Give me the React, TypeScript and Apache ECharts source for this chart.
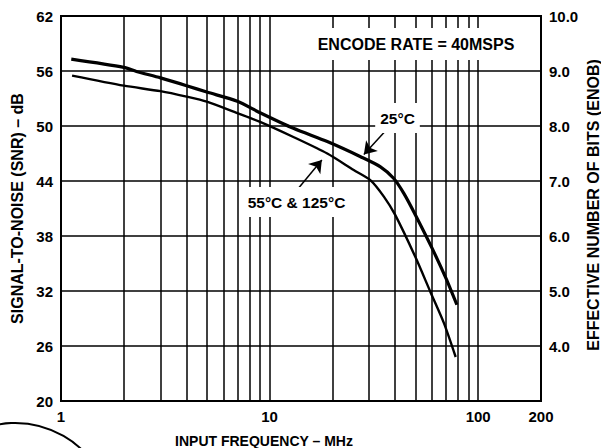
import React, { useEffect, useRef } from 'react';
import * as echarts from 'echarts';

// 25°C curve
const FREQ_25 = [1.12, 2, 2.3, 3, 4, 5, 7, 9, 13, 18.9, 27.3, 34, 39.3, 44, 50, 60, 70, 79];
const SNR_25 = [57.3, 56.4, 55.95, 55.25, 54.4, 53.7, 52.7, 51.45, 49.75, 48.3, 46.65, 45.55, 44.3, 42.65, 40.3, 36.7, 33.4, 30.5];

// 55°C & 125°C curve
const FREQ_HOT = [1.13, 2, 3, 4, 5, 7, 9, 13, 18.9, 25.3, 30.4, 35.3, 40, 50, 59, 68.5, 78];
const SNR_HOT = [55.5, 54.4, 53.8, 53.2, 52.65, 51.4, 50.45, 48.8, 47.0, 45.2, 44.1, 42.3, 40.3, 35.7, 31.9, 28.5, 24.8];

const SNR_TICKS = [20, 26, 32, 38, 44, 50, 56, 62];
const ENOB_MIN = 3;
const ENOB_MAX = 10;
const MINOR_FREQ = [2, 3, 4, 5, 6, 7, 8, 9, 20, 30, 40, 50, 60, 70, 80, 90];

// annotation arrows: [from, to] in (MHz, dB)
const ARROW_25 = [[37.1, 49.8], [28.3, 46.9]];
const ARROW_HOT = [[13.5, 43.0], [17.8, 46.3]];

const FONT = '"Liberation Sans", Arial, Helvetica, sans-serif';

export default function App() {
  const ref = useRef<HTMLDivElement>(null);

  useEffect(() => {
    const chart = echarts.init(ref.current!, null, { renderer: 'svg' });
    const lbl = { color: '#000', fontWeight: 'bold', fontSize: 15, fontFamily: FONT };
    const gridLine = { color: '#000', width: 1.5 };

    chart.setOption({
      animation: false,
      backgroundColor: '#fff',
      grid: {
        left: 61, right: 60, top: 16, bottom: 47,
        outerBoundsMode: 'none', containLabel: false,
        show: true, borderColor: '#000', borderWidth: 2, backgroundColor: 'transparent',
      },
      xAxis: {
        type: 'log', logBase: 10, min: 1, max: 200,
        axisLine: { show: false }, axisTick: { show: false },
        splitLine: { show: true, lineStyle: gridLine },
        axisLabel: { ...lbl, margin: 8, formatter: (v: number) => String(v) },
        name: 'INPUT FREQUENCY – MHz', nameLocation: 'middle', nameGap: 33, nameMoveOverlap: false,
        nameTextStyle: { ...lbl, fontSize: 14, lineHeight: 14, padding: [0, 74, 0, 0] },
      },
      yAxis: [
        {
          type: 'value', min: 20, max: 62, position: 'left',
          axisLine: { show: false }, axisTick: { show: false, customValues: SNR_TICKS },
          splitLine: { show: false },
          axisLabel: { ...lbl, margin: 8, customValues: SNR_TICKS },
          name: 'SIGNAL-TO-NOISE (SNR) – dB', nameLocation: 'middle', nameGap: 36, nameRotate: 90,
          nameMoveOverlap: false,
          nameTextStyle: { ...lbl, fontSize: 16, lineHeight: 16 },
        },
        {
          type: 'value', min: ENOB_MIN, max: ENOB_MAX, interval: 1, position: 'right',
          axisLine: { show: false }, axisTick: { show: false },
          splitLine: { show: true, lineStyle: gridLine },
          axisLabel: { ...lbl, margin: 8, formatter: (v: number) => (v === ENOB_MIN ? '' : v.toFixed(1)) },
        },
      ],
      series: [
        {
          type: 'line', data: [], yAxisIndex: 0, z: 1, silent: true,
          markLine: {
            silent: true, symbol: 'none', label: { show: false },
            lineStyle: { ...gridLine, type: 'solid' },
            emphasis: { disabled: true },
            data: MINOR_FREQ.map((f) => ({ xAxis: f })),
          },
        },
        {
          name: '25°C', type: 'line', yAxisIndex: 0, z: 3, showSymbol: false, smooth: 0.25,
          lineStyle: { color: '#000', width: 3.2 },
          data: FREQ_25.map((f, i) => [f, SNR_25[i]]),
        },
        {
          name: '55°C & 125°C', type: 'line', yAxisIndex: 0, z: 3, showSymbol: false, smooth: 0.25,
          lineStyle: { color: '#000', width: 2.4 },
          data: FREQ_HOT.map((f, i) => [f, SNR_HOT[i]]),
        },
        {
          type: 'line', data: [], yAxisIndex: 0, z: 4, silent: true,
          markLine: {
            silent: true, symbol: ['none', 'arrow'], symbolSize: 12, label: { show: false },
            lineStyle: { color: '#000', width: 1.5, type: 'solid' },
            itemStyle: { color: '#000' },
            emphasis: { disabled: true },
            data: [
              [{ coord: ARROW_25[0] }, { coord: ARROW_25[1] }],
              [{ coord: ARROW_HOT[0] }, { coord: ARROW_HOT[1] }],
            ],
          },
        },
      ],
      graphic: [
        {
          type: 'text', x: 416, y: 44, z: 100,
          style: {
            text: 'ENCODE RATE = 40MSPS', fill: '#000', font: `bold 16px ${FONT}`,
            align: 'center', verticalAlign: 'middle', backgroundColor: '#fff', padding: [8, 6],
          },
        },
        {
          type: 'text', x: 397.5, y: 118, z: 100,
          style: {
            text: '25°C', fill: '#000', font: `bold 15.5px ${FONT}`,
            align: 'center', verticalAlign: 'middle', backgroundColor: '#fff', padding: [7, 5],
          },
        },
        {
          type: 'text', x: 296.5, y: 202, z: 100,
          style: {
            text: '55°C & 125°C', fill: '#000', font: `bold 15.5px ${FONT}`,
            align: 'center', verticalAlign: 'middle', backgroundColor: '#fff', padding: [7, 3],
          },
        },
        {
          type: 'text', x: 593, y: 205, rotation: Math.PI / 2, z: 100,
          style: {
            text: 'EFFECTIVE NUMBER OF BITS (ENOB)', fill: '#000', font: `bold 16px ${FONT}`,
            align: 'center', verticalAlign: 'middle',
          },
        },
        {
          type: 'circle', z: 100, silent: true,
          shape: { cx: 15, cy: 520, r: 97 },
          style: { fill: 'none', stroke: '#000', lineWidth: 2 },
        },
      ],
    });
    return () => chart.dispose();
  }, []);

  return (
    <div
      ref={ref}
      style={{ position: 'fixed', left: 0, top: 0, width: 601, height: 448, background: '#fff' }}
    />
  );
}
